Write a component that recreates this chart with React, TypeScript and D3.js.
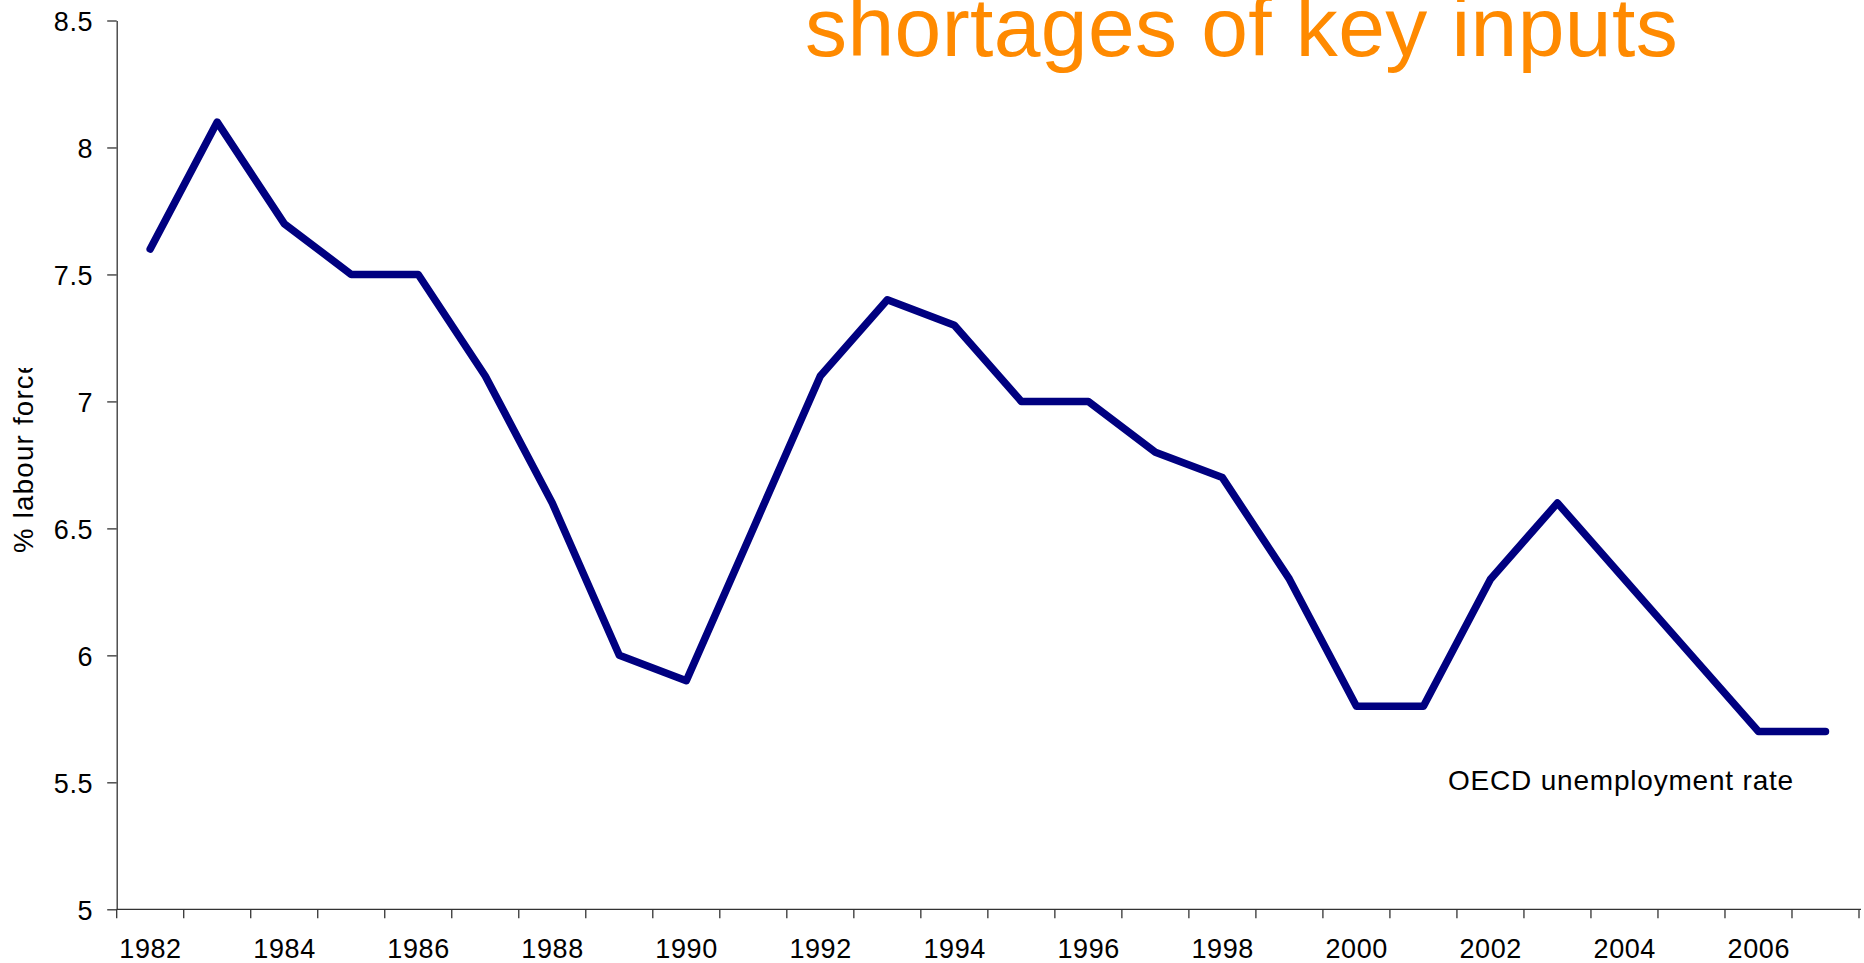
import React, { useEffect, useRef } from 'react';
import * as d3 from 'd3';

const years = [
  1982, 1983, 1984, 1985, 1986, 1987, 1988, 1989, 1990, 1991, 1992, 1993, 1994,
  1995, 1996, 1997, 1998, 1999, 2000, 2001, 2002, 2003, 2004, 2005, 2006, 2007,
];
const unemployment = [
  7.6, 8.1, 7.7, 7.5, 7.5, 7.1, 6.6, 6.0, 5.9, 6.5, 7.1, 7.4, 7.3,
  7.0, 7.0, 6.8, 6.7, 6.3, 5.8, 5.8, 6.3, 6.6, 6.3, 6.0, 5.7, 5.7,
];
const yTicks = [5, 5.5, 6, 6.5, 7, 7.5, 8, 8.5];
const yearLabels = [1982, 1984, 1986, 1988, 1990, 1992, 1994, 1996, 1998, 2000, 2002, 2004, 2006];

const FONT = "'Liberation Sans', Arial, sans-serif";

const App = () => {
  const svgRef = useRef<SVGSVGElement>(null);

  useEffect(() => {
    const svg = d3.select(svgRef.current);
    svg.selectAll('*').remove();

    const left = 116.7;
    const right = 1859;
    const top = 20.5;
    const bottom = 909.3;

    // scales
    const x = d3.scaleBand<number>().domain(years).range([left, right]);
    const y = d3.scaleLinear().domain([5, 8.5]).range([bottom, top]);
    const bw = x.bandwidth();

    // y axis
    const yAxis = d3
      .axisLeft(y)
      .tickValues(yTicks)
      .tickSize(9.5)
      .tickSizeOuter(0)
      .tickPadding(14)
      .tickFormat((d) => String(d));
    const gy = svg.append('g').attr('transform', `translate(${left},0)`).call(yAxis);
    gy.selectAll('path, line').attr('stroke', '#333').attr('stroke-width', 1.3);
    gy.selectAll('text')
      .attr('font-family', FONT)
      .attr('font-size', 27)
      .attr('letter-spacing', 0.6)
      .attr('fill', '#000')
      .attr('dy', '0.36em');

    // x axis: line, ticks on category boundaries, labels every other year
    const gx = svg.append('g');
    gx.append('line')
      .attr('x1', left)
      .attr('x2', right + 2)
      .attr('y1', bottom)
      .attr('y2', bottom)
      .attr('stroke', '#333')
      .attr('stroke-width', 1.3);
    const bounds = [...years.map((d) => x(d) as number), right];
    gx.selectAll('.tick')
      .data(bounds)
      .join('line')
      .attr('class', 'tick')
      .attr('x1', (d) => d)
      .attr('x2', (d) => d)
      .attr('y1', bottom)
      .attr('y2', bottom + 9)
      .attr('stroke', '#333')
      .attr('stroke-width', 1.3);
    gx.selectAll('.year')
      .data(yearLabels)
      .join('text')
      .attr('class', 'year')
      .attr('x', (d) => (x(d) as number) + bw / 2 + 0.3)
      .attr('y', 958)
      .attr('text-anchor', 'middle')
      .attr('font-family', FONT)
      .attr('font-size', 27)
      .attr('letter-spacing', 0.6)
      .attr('fill', '#000')
      .text((d) => d);

    // y axis title, clipped at the top like the original
    svg.append('clipPath')
      .attr('id', 'ylab-clip')
      .append('rect')
      .attr('x', 0)
      .attr('y', 368)
      .attr('width', 60)
      .attr('height', 300);
    svg.append('g')
      .attr('clip-path', 'url(#ylab-clip)')
      .append('text')
      .attr('transform', 'translate(33,553) rotate(-90)')
      .attr('font-family', FONT)
      .attr('font-size', 27.5)
      .attr('letter-spacing', 1.3)
      .attr('fill', '#000')
      .text('% labour force');

    // the series
    const line = d3
      .line<number>()
      .x((d, i) => (x(years[i]) as number) + bw / 2)
      .y((d) => y(d));
    svg.append('path')
      .datum(unemployment)
      .attr('d', line)
      .attr('fill', 'none')
      .attr('stroke', '#000080')
      .attr('stroke-width', 7.5)
      .attr('stroke-linejoin', 'round')
      .attr('stroke-linecap', 'round');

    // series label
    svg.append('text')
      .attr('x', 1448)
      .attr('y', 790)
      .attr('font-family', FONT)
      .attr('font-size', 28)
      .attr('letter-spacing', 0.8)
      .attr('fill', '#000')
      .text('OECD unemployment rate');

    // slide title, cut off by the top edge
    svg.append('text')
      .attr('x', 805)
      .attr('y', 56)
      .attr('font-family', FONT)
      .attr('font-size', 84)
      .attr('letter-spacing', 0.4)
      .attr('fill', '#ff8a00')
      .text('shortages of key inputs');
  }, []);

  return (
    <svg
      ref={svgRef}
      width={1864}
      height={963}
      style={{ position: 'absolute', left: 0, top: 0, display: 'block', background: '#fff' }}
    />
  );
};

export default App;
